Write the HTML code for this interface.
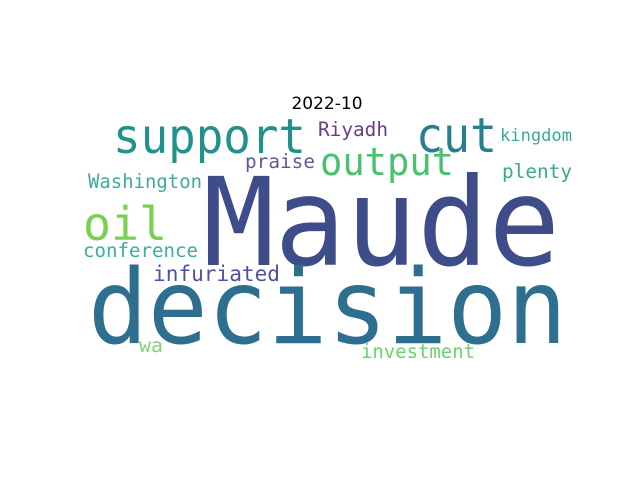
<!DOCTYPE html>
<html><head><meta charset="utf-8"><style>
html,body{margin:0;padding:0;background:#fff;}
svg{display:block;}
text.w{font-family:"DejaVu Sans Mono","Liberation Mono",monospace;}
</style></head><body>
<svg width="640" height="480" viewBox="0 0 640 480">
<text x="327" y="109" text-anchor="middle" font-family="DejaVu Sans, Liberation Sans, sans-serif" font-size="17" fill="#000">2022-10</text>
<g id="words"></g>
</svg>
<script>
const words = ["Maude","decision","support","cut","oil","output","Riyadh","kingdom","praise","plenty","Washington","conference","infuriated","wa","investment"];
const weights = [1.0,0.85,0.45,0.45,0.45,0.36,0.18,0.16,0.18,0.18,0.18,0.18,0.2,0.18,0.18];
const colors = ["#3e4c8a","#2e6e8e","#21918c","#277f8e","#7ad151","#4ac16d","#6a3d85","#3aa89a","#5a5d97","#38a98d","#3eab9c","#3aaf9a","#52529a","#7fd37a","#6ecf72"];
// layout (not data): x, baseline y, rendered width, size factor
const layout = [[203,265,357,1.0],[88,343,479,1.0],[113,153,193,0.87],[416,152,81,0.87],[83,240,84,0.84],[320,175,134,0.87],[318,136,70,0.87],[500,141,72,0.87],[245,168,70,0.87],[502,178,70,0.87],[88,188,114,0.87],[83,257,115,0.87],[153,281,127,0.87],[139,352,24,0.87],[361,358,114,0.87]];
const g = document.getElementById('words');
words.forEach((w,i)=>{
  const t = document.createElementNS('http://www.w3.org/2000/svg','text');
  t.setAttribute('class','w');
  t.setAttribute('x', layout[i][0]);
  t.setAttribute('y', layout[i][1]);
  t.setAttribute('font-size', (weights[i]*122*layout[i][3]).toFixed(1));
  t.setAttribute('textLength', layout[i][2]);
  t.setAttribute('lengthAdjust','spacingAndGlyphs');
  t.setAttribute('fill', colors[i]);
  
  
  t.textContent = w;
  g.appendChild(t);
});
</script>
</body></html>
